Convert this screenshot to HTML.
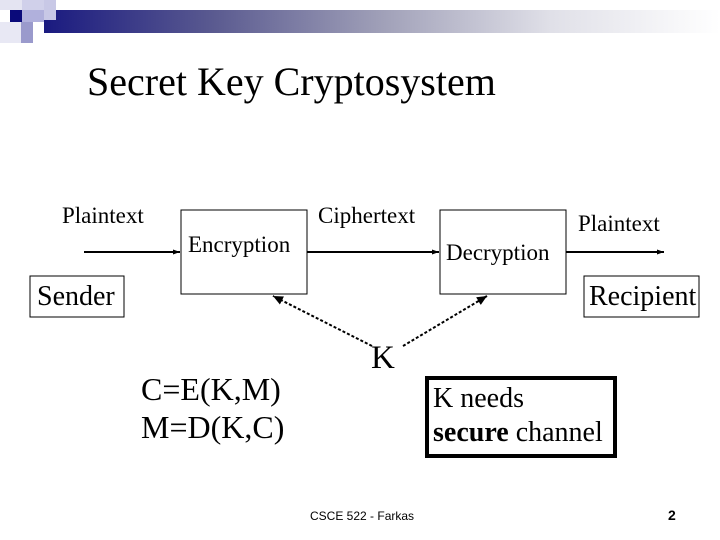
<!DOCTYPE html>
<html><head><meta charset="utf-8"><style>
html,body{margin:0;padding:0;background:#fff}
body{width:720px;height:540px;position:relative;overflow:hidden;font-family:"Liberation Serif",serif;color:#000}
.a{position:absolute}
.t{position:absolute;white-space:nowrap;line-height:1}
</style></head><body>
<div class="a" style="left:44px;top:10px;width:676px;height:23px;background:linear-gradient(to right,#1a1a80 0%,#5a5a90 25%,#a0a0b8 50%,#e0e0e8 75%,#fff 100%)"></div>
<div class="a" style="left:0;top:0;width:22px;height:10px;background:#e4e4f2"></div>
<div class="a" style="left:22px;top:0;width:22px;height:10px;background:#d0d0ea"></div>
<div class="a" style="left:44px;top:0;width:12px;height:20px;background:#c8c8e6"></div>
<div class="a" style="left:10px;top:10px;width:12px;height:12px;background:#0a0a7a"></div>
<div class="a" style="left:22px;top:10px;width:22px;height:12px;background:#b0b0dc"></div>
<div class="a" style="left:0;top:22px;width:21px;height:21px;background:#e8e8f4"></div>
<div class="a" style="left:21px;top:22px;width:12px;height:21px;background:#9a9acc"></div>
<div class="t" style="left:87px;top:62px;font-size:40px">Secret Key Cryptosystem</div>

<svg class="a" style="left:0;top:0" width="720" height="540">
<defs><marker id="ar" markerUnits="userSpaceOnUse" markerWidth="8" markerHeight="8" refX="7" refY="4" orient="auto"><path d="M0,1.5 L7,4 L0,6.5 Z" fill="#000"/></marker>
<marker id="ar2" markerUnits="userSpaceOnUse" markerWidth="12" markerHeight="12" refX="10" refY="6" orient="auto"><path d="M0,1.5 L10,6 L0,10.5 Z" fill="#000"/></marker></defs>
<rect x="181" y="210" width="126" height="84" fill="none" stroke="#000" stroke-width="1"/>
<rect x="440" y="210" width="126" height="84" fill="none" stroke="#000" stroke-width="1"/>
<rect x="30" y="276" width="94" height="41" fill="none" stroke="#000" stroke-width="1"/>
<rect x="584" y="276" width="115" height="41" fill="none" stroke="#000" stroke-width="1"/>
<rect x="427" y="378" width="188" height="78" fill="none" stroke="#000" stroke-width="4"/>
<line x1="84" y1="252" x2="180" y2="252" stroke="#000" stroke-width="2" marker-end="url(#ar)"/>
<line x1="307" y1="252" x2="439" y2="252" stroke="#000" stroke-width="2" marker-end="url(#ar)"/>
<line x1="566" y1="252" x2="664" y2="252" stroke="#000" stroke-width="2" marker-end="url(#ar)"/>
<line x1="372" y1="346" x2="273" y2="296" stroke="#000" stroke-width="2" stroke-dasharray="3,2" marker-end="url(#ar2)"/>
<line x1="403" y1="346" x2="487" y2="296" stroke="#000" stroke-width="2" stroke-dasharray="3,2" marker-end="url(#ar2)"/>
</svg>

<div class="t" style="left:62px;top:204px;font-size:23px">Plaintext</div>
<div class="t" style="left:318px;top:204px;font-size:23px">Ciphertext</div>
<div class="t" style="left:578px;top:212px;font-size:23px">Plaintext</div>
<div class="t" style="left:188px;top:233px;font-size:23px">Encryption</div>
<div class="t" style="left:446px;top:241px;font-size:23px">Decryption</div>
<div class="t" style="left:37px;top:283px;font-size:28px">Sender</div>
<div class="t" style="left:589px;top:283px;font-size:28px">Recipient</div>
<div class="t" style="left:371px;top:342px;font-size:33px">K</div>
<div class="t" style="left:141px;top:373px;font-size:32px">C=E(K,M)</div>
<div class="t" style="left:141px;top:411px;font-size:32px">M=D(K,C)</div>
<div class="t" style="left:433px;top:385px;font-size:28px">K needs</div>
<div class="t" style="left:433px;top:419px;font-size:28px"><b>secure</b> channel</div>
<div class="t" style="left:310px;top:510px;font-size:12px;font-family:'Liberation Sans',sans-serif">CSCE 522 - Farkas</div>
<div class="t" style="left:668px;top:508px;font-size:14px;font-weight:bold;font-family:'Liberation Sans',sans-serif">2</div>
</body></html>
